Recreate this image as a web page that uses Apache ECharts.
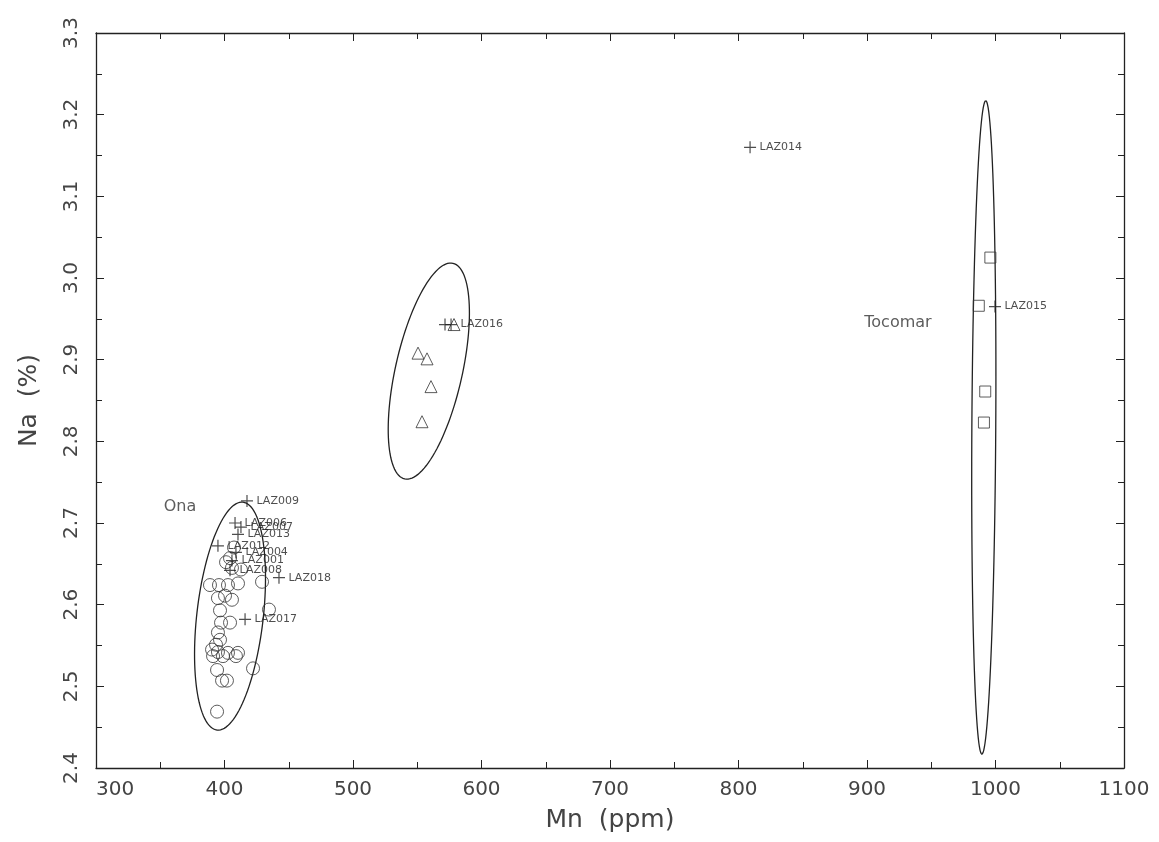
<!DOCTYPE html>
<html>
<head>
<meta charset="utf-8">
<script src="https://cdn.jsdelivr.net/npm/echarts@6/dist/echarts.min.js"></script>
<style>
  html, body { margin: 0; padding: 0; background: #fff; }
  #chart { width: 1159px; height: 842px; }
</style>
</head>
<body>
<div id="chart"></div>
<script>
// Ona group (circles), [Mn ppm, Na %]
const onaPoints = [
  [388.7, 2.624], [395.7, 2.624], [402.7, 2.624], [410.5, 2.626], [429.2, 2.628],
  [412.8, 2.643], [405.8, 2.645], [404.3, 2.657], [394.9, 2.608], [405.8, 2.606],
  [400.4, 2.611], [396.5, 2.593], [397.3, 2.578], [404.3, 2.578], [394.9, 2.566],
  [396.5, 2.557], [393.4, 2.551], [390.3, 2.545], [394.9, 2.542], [402.7, 2.541],
  [410.5, 2.541], [391.1, 2.537], [398.8, 2.537], [408.9, 2.537], [394.2, 2.520],
  [422.2, 2.522], [398.1, 2.507], [401.9, 2.507], [394.2, 2.469], [434.6, 2.594],
  [407.4, 2.670], [401.2, 2.652]
];
// middle group (triangles)
const midPoints = [
  [550.6, 2.908], [557.6, 2.901], [560.7, 2.867], [553.7, 2.824], [578.6, 2.943]
];
// Tocomar group (squares)
const tocomarPoints = [
  [996.0, 3.025], [987.0, 2.966], [992.0, 2.861], [991.0, 2.823]
];
// labelled samples (crosses)
const lazNames = [
  "LAZ009", "LAZ006", "LAZ007", "LAZ013", "LAZ012", "LAZ004", "LAZ001",
  "LAZ008", "LAZ018", "LAZ017", "", "LAZ016", "LAZ014", "LAZ015"
];
const lazMn = [417.5, 408.2, 412.8, 410.5, 394.9, 408.9, 405.8, 404.3, 442.4, 416.0, 571.6, 576.3, 809.0, 999.6];
const lazNa = [2.727, 2.700, 2.695, 2.686, 2.672, 2.664, 2.654, 2.642, 2.633, 2.582, 2.943, 2.943, 3.160, 2.965];

// ellipses: centre [Mn, Na], two conjugate semi-axes in data units
const ellipses = [
  [404.3, 2.586, 10.1, 0.1395, 25.7, -0.0046],
  [559.0, 2.886, 18.8, 0.132, 25.4, -0.009],
  [990.9, 2.817, 1.5, 0.400, 9.3, 0.0]
];
const groupNames = ["Ona", "Tocomar"];
const groupPos = [[365.4, 2.720], [924.1, 2.945]];

const xTicks = [300, 1100, 100];
const yTicks = [2.4, 3.3, 0.1];

const lineColor = "#222";
const font = "DejaVu Sans";

let chart = echarts.init(document.getElementById("chart"));

const crossPath = "path://M0,5L10,5M5,0L5,10";

function axisX(pos, showLabel) {
  return {
    type: "value",
    position: pos,
    min: xTicks[0],
    max: xTicks[1],
    interval: xTicks[2],
    name: showLabel ? "Mn  (ppm)" : "",
    nameLocation: "middle",
    nameGap: 40,
    nameTextStyle: { fontFamily: font, fontSize: 25, color: "#444" },
    axisLine: { show: true, onZero: false, lineStyle: { color: lineColor, width: 1.3 } },
    axisTick: { show: true, inside: true, length: 8, lineStyle: { color: lineColor } },
    minorTick: { show: true, splitNumber: 2, length: 6, lineStyle: { color: lineColor } },
    axisLabel: {
      show: showLabel,
      fontFamily: font,
      fontSize: 20,
      color: "#444",
      margin: 12,
      alignMinLabel: "left",
      formatter: function (v) { return String(v); }
    },
    splitLine: { show: false }
  };
}

function axisY(pos, showLabel) {
  return {
    type: "value",
    position: pos,
    min: yTicks[0],
    max: yTicks[1],
    interval: yTicks[2],
    name: showLabel ? "Na  (%)" : "",
    nameLocation: "middle",
    nameGap: 54,
    nameRotate: 90,
    nameTextStyle: { fontFamily: font, fontSize: 25, color: "#444" },
    axisLine: { show: true, onZero: false, lineStyle: { color: lineColor, width: 1.3 } },
    axisTick: { show: true, inside: true, length: 8, lineStyle: { color: lineColor } },
    minorTick: { show: true, splitNumber: 2, length: 6, lineStyle: { color: lineColor } },
    axisLabel: {
      show: showLabel,
      fontFamily: font,
      fontSize: 20,
      color: "#444",
      rotate: 90,
      margin: 14,
      formatter: function (v) { return v.toFixed(1); }
    },
    splitLine: { show: false }
  };
}

chart.setOption({
  backgroundColor: "#fff",
  animation: false,
  grid: { left: 96, right: 35, top: 33, bottom: 74 },
  xAxis: [axisX("bottom", true), axisX("top", false)],
  yAxis: [axisY("left", true), axisY("right", false)],
  series: [
    {
      type: "custom",
      name: "ellipses",
      silent: true,
      data: ellipses,
      encode: { x: 0, y: 1 },
      renderItem: function (params, api) {
        const cx = api.value(0), cy = api.value(1);
        const ux = api.value(2), uy = api.value(3);
        const vx = api.value(4), vy = api.value(5);
        const pts = [];
        for (let i = 0; i <= 120; i++) {
          const t = (i / 120) * Math.PI * 2;
          pts.push(api.coord([
            cx + ux * Math.cos(t) + vx * Math.sin(t),
            cy + uy * Math.cos(t) + vy * Math.sin(t)
          ]));
        }
        return {
          type: "polyline",
          shape: { points: pts },
          style: { fill: null, stroke: lineColor, lineWidth: 1.3 }
        };
      },
      z: 1
    },
    {
      type: "scatter",
      name: "Ona",
      data: onaPoints,
      symbol: "circle",
      symbolSize: 13,
      itemStyle: { color: "rgba(0,0,0,0)", borderColor: "#333", borderWidth: 1 }
    },
    {
      type: "scatter",
      name: "mid",
      data: midPoints,
      symbol: "triangle",
      symbolSize: 12,
      itemStyle: { color: "rgba(0,0,0,0)", borderColor: "#333", borderWidth: 1 }
    },
    {
      type: "scatter",
      name: "Tocomar",
      data: tocomarPoints,
      symbol: "rect",
      symbolSize: 11,
      itemStyle: { color: "rgba(0,0,0,0)", borderColor: "#333", borderWidth: 1 }
    },
    {
      type: "scatter",
      name: "LAZ",
      data: lazMn.map(function (m, i) {
        return { value: [m, lazNa[i]], name: lazNames[i] };
      }),
      symbol: crossPath,
      symbolSize: 12,
      itemStyle: { color: "none", borderColor: "#222", borderWidth: 1.2 },
      label: {
        show: true,
        position: "right",
        distance: 1,
        offset: [0, -4],
        formatter: "{b}",
        fontFamily: font,
        fontSize: 11,
        color: "#222"
      },
      labelLayout: { hideOverlap: false }
    },
    {
      type: "scatter",
      name: "groups",
      silent: true,
      symbolSize: 0,
      data: groupPos.map(function (p, i) { return { value: p, name: groupNames[i] }; }),
      label: {
        show: true,
        position: "inside",
        formatter: "{b}",
        fontFamily: font,
        fontSize: 16,
        color: "#333"
      }
    }
  ]
});
</script>
</body>
</html>
